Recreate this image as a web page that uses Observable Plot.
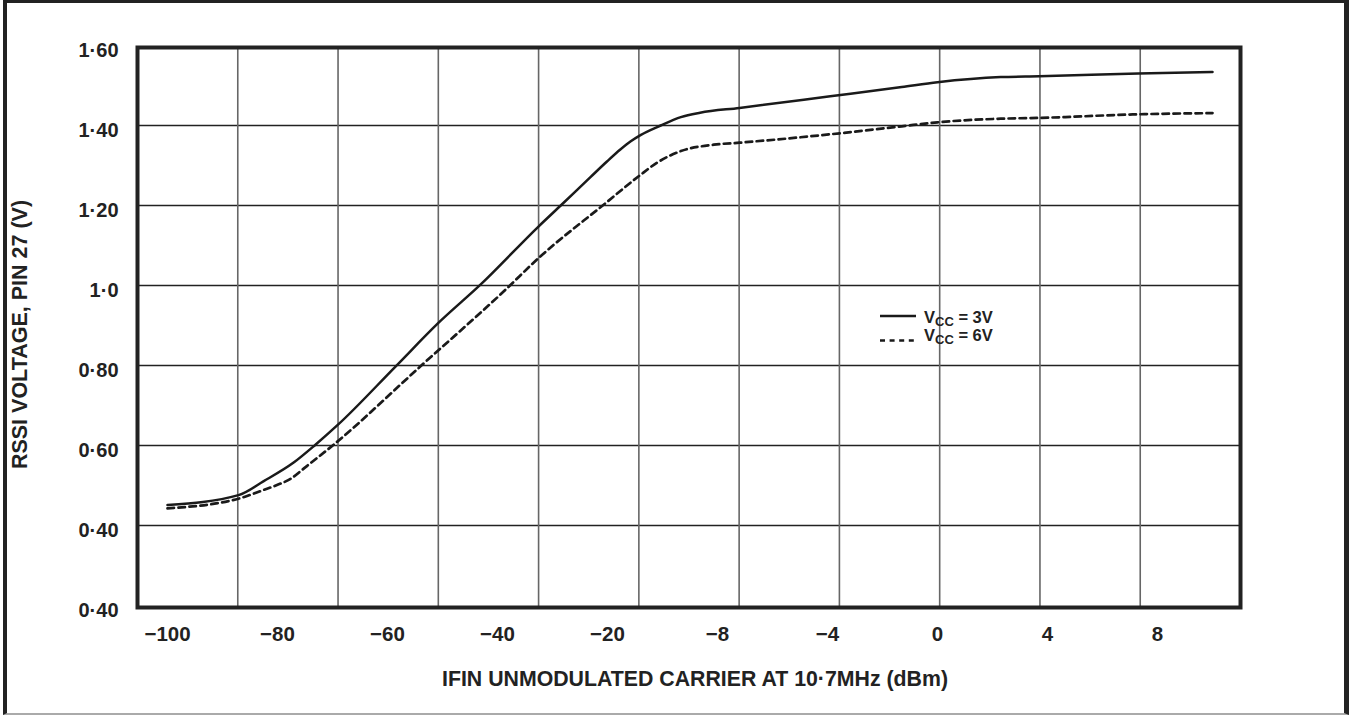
<!DOCTYPE html>
<html>
<head>
<meta charset="utf-8">
<script src="https://cdn.jsdelivr.net/npm/d3@7"></script>
<script src="https://cdn.jsdelivr.net/npm/@observablehq/plot@0.6"></script>
<style>
html, body { margin: 0; padding: 0; background: #fff; }
#wrap { position: relative; width: 1356px; height: 715px; overflow: hidden;
  font-family: "Liberation Sans", Arial, Helvetica, sans-serif; }
#border { position: absolute; left: 3px; top: 0; width: 1337px; height: 710px;
  border-left: 4px solid #222; border-right: 5px solid #222; border-top: 3px solid #222;
  border-bottom: 2px solid #aaa; }
#chart { position: absolute; left: 0; top: 0; }
</style>
</head>
<body>
<div id="wrap"><div id="border"></div><div id="chart"></div></div>
<script>
// ---- data ----
const xTicks = [-100, -80, -60, -40, -20, -8, -4, 0, 4, 8];
const xTickLabels = ["−100", "−80", "−60", "−40", "−20", "−8", "−4", "0", "4", "8"];
const yTicks = [0.2, 0.4, 0.6, 0.8, 1.0, 1.2, 1.4, 1.6];
const yTickLabels = ["0·40", "0·40", "0·60", "0·80", "1·0", "1·20", "1·40", "1·60"];

const vcc3Dbm = [-100, -87.1, -82.5, -77, -73.1, -69, -58.5, -50.7, -43.1, -32.5, -28.5, -23.1, -20.1, -18.6, -17.5, -16.4, -14.2, -12, -9.9, -7.2, -3.9, -1.3, 0, 2.3, 3.7, 7.3, 10];
const vcc3Volts = [0.451, 0.476, 0.511, 0.558, 0.602, 0.652, 0.798, 0.907, 1.002, 1.148, 1.2, 1.271, 1.31, 1.34, 1.36, 1.376, 1.4, 1.421, 1.432, 1.444, 1.473, 1.496, 1.508, 1.521, 1.523, 1.53, 1.534];

const vcc6Dbm = [-100, -87.1, -82.5, -80.4, -77.6, -74.9, -69.8, -54, -38.5, -32.5, -20.7, -16.6, -14.6, -12, -8.4, -7.2, -3.9, -1.3, 0, 2.3, 3.7, 7.3, 10];
const vcc6Volts = [0.443, 0.467, 0.489, 0.4995, 0.517, 0.546, 0.602, 0.798, 0.99, 1.069, 1.202, 1.273, 1.307, 1.336, 1.352, 1.357, 1.378, 1.398, 1.408, 1.417, 1.419, 1.428, 1.431];

const seriesNames = ["VCC = 3V", "VCC = 6V"];
const xTitle = "IFIN UNMODULATED CARRIER AT 10·7MHz (dBm)";
const yTitle = "RSSI VOLTAGE, PIN 27 (V)";

// ---- layout ----
const W = 1356, H = 715;
const frame = {left: 137, right: 1240, top: 47, bottom: 607};
const tickStart = 167, tickStep = 110;     // spacing of the printed tick labels
const gridColumns = 11;                    // vertical grid columns inside the frame

const vcc3 = vcc3Dbm.map((x, i) => ({x, y: vcc3Volts[i]}));
const vcc6 = vcc6Dbm.map((x, i) => ({x, y: vcc6Volts[i]}));

// piecewise x scale: equal spacing between printed ticks
const xOpts = {
  type: "linear",
  domain: [-100, -20, -8, 8],
  range: [tickStart, tickStart + 4 * tickStep, tickStart + 5 * tickStep, tickStart + 9 * tickStep]
};
const xScale = Plot.scale({x: xOpts});
const colW = (frame.right - frame.left) / gridColumns;
const gridX = d3.range(1, gridColumns).map(i => xScale.invert(frame.left + i * colW));

const font = "'Liberation Sans', Arial, Helvetica, sans-serif";

const chart = Plot.plot({
  width: W, height: H,
  marginLeft: frame.left, marginRight: W - frame.right,
  marginTop: frame.top, marginBottom: H - frame.bottom,
  style: {fontFamily: font, background: "transparent", color: "#222", overflow: "visible"},
  x: xOpts,
  y: {domain: [0.2, 1.6], range: [605, 45]},
  marks: [
    Plot.gridY(yTicks.slice(1, -1), {stroke: "#222", strokeOpacity: 1, strokeWidth: 1.3}),
    Plot.ruleX(gridX, {stroke: "#666", strokeWidth: 1.6}),
    Plot.line(vcc3, {x: "x", y: "y", curve: "monotone-x", stroke: "#1a1a1a", strokeWidth: 2.5}),
    Plot.line(vcc6, {x: "x", y: "y", curve: "monotone-x", stroke: "#1a1a1a", strokeWidth: 2.7, strokeDasharray: "6.5,4.5"}),
    Plot.frame({stroke: "#222", strokeWidth: 4}),
    Plot.axisX(xTicks, {tickSize: 0, tickPadding: 19, label: null,
      tickFormat: d => xTickLabels[xTicks.indexOf(d)], fontSize: 20.5, fontWeight: "bold", fill: "#222"}),
    Plot.axisY(yTicks, {tickSize: 0, tickPadding: 19, label: null, dy: 5,
      tickFormat: d => yTickLabels[yTicks.indexOf(d)], fontSize: 20, fontWeight: "bold", fill: "#222"}),
    Plot.text([xTitle], {text: d => d, frameAnchor: "bottom", dy: 78, dx: 6,
      fontSize: 21.3, fontWeight: "bold", fill: "#222"}),
    Plot.text([yTitle], {text: d => d, frameAnchor: "left", rotate: -90, dx: -117, dy: 7,
      textAnchor: "middle", fontSize: 21.5, fontWeight: "bold", fill: "#222"})
  ]
});
document.getElementById("chart").appendChild(chart);

// ---- legend (inside the plot area) ----
const svg = d3.select(chart);
const lg = svg.append("g").attr("font-family", font).attr("font-weight", "bold")
  .attr("fill", "#222").attr("text-anchor", "start");
const legendRows = [
  {name: seriesNames[0], dash: null, lineY: 316, textY: 322.5},
  {name: seriesNames[1], dash: "5,4.6", lineY: 340.5, textY: 340.5}
];
legendRows.forEach(r => {
  lg.append("line").attr("x1", 880).attr("x2", 916).attr("y1", r.lineY).attr("y2", r.lineY)
    .attr("stroke", "#1a1a1a").attr("stroke-width", r.dash ? 2.5 : 2.3)
    .attr("stroke-dasharray", r.dash);
  const t = lg.append("text").attr("x", 924).attr("y", r.textY).attr("font-size", 16.5);
  t.append("tspan").text("V");
  t.append("tspan").attr("font-size", 13).attr("dy", 3).text("CC");
  t.append("tspan").attr("dy", -3).text(r.name.slice(3));
});
</script>
</body>
</html>
